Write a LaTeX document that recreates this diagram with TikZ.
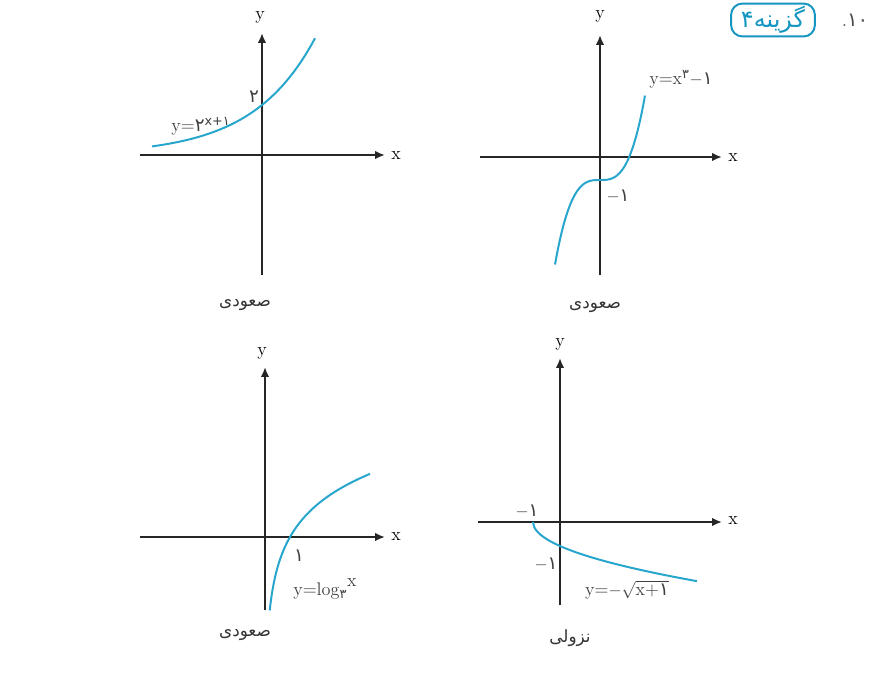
\documentclass[tikz,border=0pt]{standalone}
\usepackage{fontspec}
\usetikzlibrary{arrows.meta,positioning}
\TeXXeTstate=1
\newfontfamily\fa[Script=Arabic]{DejaVu Sans}
\definecolor{CurveBlue}{RGB}{38,165,205}
\definecolor{BoxBlue}{RGB}{20,150,195}
\tikzset{
  axis/.style={-{Latex[length=7pt,width=6pt]},line width=1.4pt,black!85},
  curve/.style={CurveBlue,line width=1.4pt},
  axlabel/.style={font=\fontsize{13}{15}\selectfont,inner sep=1pt},
  fnlabel/.style={font=\fontsize{13}{15}\selectfont,inner sep=1pt,black!75},
  caption/.style={font=\fa\fontsize{12}{14}\selectfont,inner sep=1pt,black!80}
}
\begin{document}
\begin{tikzpicture}[x=0.025cm,y=0.025cm]
\useasboundingbox[fill=white] (0,0) rectangle (879,-672);
% header
\node[font=\fontsize{14}{16}\selectfont,black!70] (num) at (855,-20) {.{\fa ۱۰}};
\node[draw=BoxBlue,text=BoxBlue,line width=1.4pt,rounded corners=8pt,
  font=\fa\fontsize{17}{19}\selectfont,inner xsep=7pt,inner ysep=2pt] (opt) at (773,-20)
  {۴\beginR گزینه\endR};
% graph 1: y = 2^{x+1}
\begin{scope}[shift={(262,-155)}]
  \coordinate (g1xs) at (-122,0); \coordinate (g1xe) at (123,0);
  \coordinate (g1ys) at (0,-120); \coordinate (g1ye) at (0,122);
  \draw[axis] (g1xs) -- (g1xe);
  \draw[axis] (g1ys) -- (g1ye);
  \node[axlabel] (g1x) at (134,-1) {x};
  \node[axlabel] (g1y) at (-2,138) {y};
  \draw[curve] plot[domain=-110:53,samples=60,smooth] (\x,{50*exp(0.016*\x)});
  \node[fnlabel] (g1f) at (-61,29) {y=\fa۲\textsuperscript{x+\fa۱}};
  \node[fnlabel] (g1two) at (-8,58) {\fa۲};
\end{scope}
% graph 2: y = x^3 - 1
\begin{scope}[shift={(600,-157)}]
  \coordinate (g2xs) at (-120,0); \coordinate (g2xe) at (122,0);
  \coordinate (g2ys) at (0,-118); \coordinate (g2ye) at (0,122);
  \draw[axis] (g2xs) -- (g2xe);
  \draw[axis] (g2ys) -- (g2ye);
  \node[axlabel] (g2x) at (133,-1) {x};
  \node[axlabel] (g2y) at (0,141) {y};
  \draw[curve] plot[domain=-1.8:1.8,samples=60,smooth] ({25*\x},{23*(0.63*\x*\x*\x-1)});
  \node[fnlabel] (g2f) at (81,78) {y=x\textsuperscript{\fa۳}$-$\fa۱};
  \node[fnlabel] (g2m) at (18,-39) {$-$\fa۱};
\end{scope}
% graph 3: y = log_3 x
\begin{scope}[shift={(265,-537)}]
  \coordinate (g3xs) at (-125,0); \coordinate (g3xe) at (120,0);
  \coordinate (g3ys) at (0,-73); \coordinate (g3ye) at (0,170);
  \draw[axis] (g3xs) -- (g3xe);
  \draw[axis] (g3ys) -- (g3ye);
  \node[axlabel] (g3x) at (131,0) {x};
  \node[axlabel] (g3y) at (-3,184) {y};
  \draw[curve] plot[domain=4.7:105,samples=80,smooth] (\x,{44*ln(\x/25)});
  \node[fnlabel] (g3one) at (34,-19) {\fa۱};
  \node[fnlabel] (g3f) at (60,-52) {y=log\textsubscript{\fa۳}\raisebox{1.2ex}{x}};
\end{scope}
% graph 4: y = -sqrt(x+1)
\begin{scope}[shift={(560,-522)}]
  \coordinate (g4xs) at (-82,0); \coordinate (g4xe) at (162,0);
  \coordinate (g4ys) at (0,-83); \coordinate (g4ye) at (0,164);
  \draw[axis] (g4xs) -- (g4xe);
  \draw[axis] (g4ys) -- (g4ye);
  \node[axlabel] (g4x) at (173,1) {x};
  \node[axlabel] (g4y) at (0,178) {y};
  \draw[curve] plot[domain=-27:137,samples=120,smooth] (\x,{-24*sqrt(max(\x/27+1,0))});
  \node[fnlabel] (g4mx) at (-33,11) {$-$\fa۱};
  \node[fnlabel] (g4my) at (-14,-42) {$-$\fa۱};
  \node[fnlabel] (g4f) at (67,-68) {y=$-\sqrt{\mbox{x+\fa۱}}$};
\end{scope}
% captions
\node[caption] (c1) at (245,-305) {\beginR صعودی\endR};
\node[caption] (c2) at (595,-307) {\beginR صعودی\endR};
\node[caption] (c3) at (245,-635) {\beginR صعودی\endR};
\node[caption] (c4) at (570,-638) {\beginR نزولی\endR};
\end{tikzpicture}
\end{document}
